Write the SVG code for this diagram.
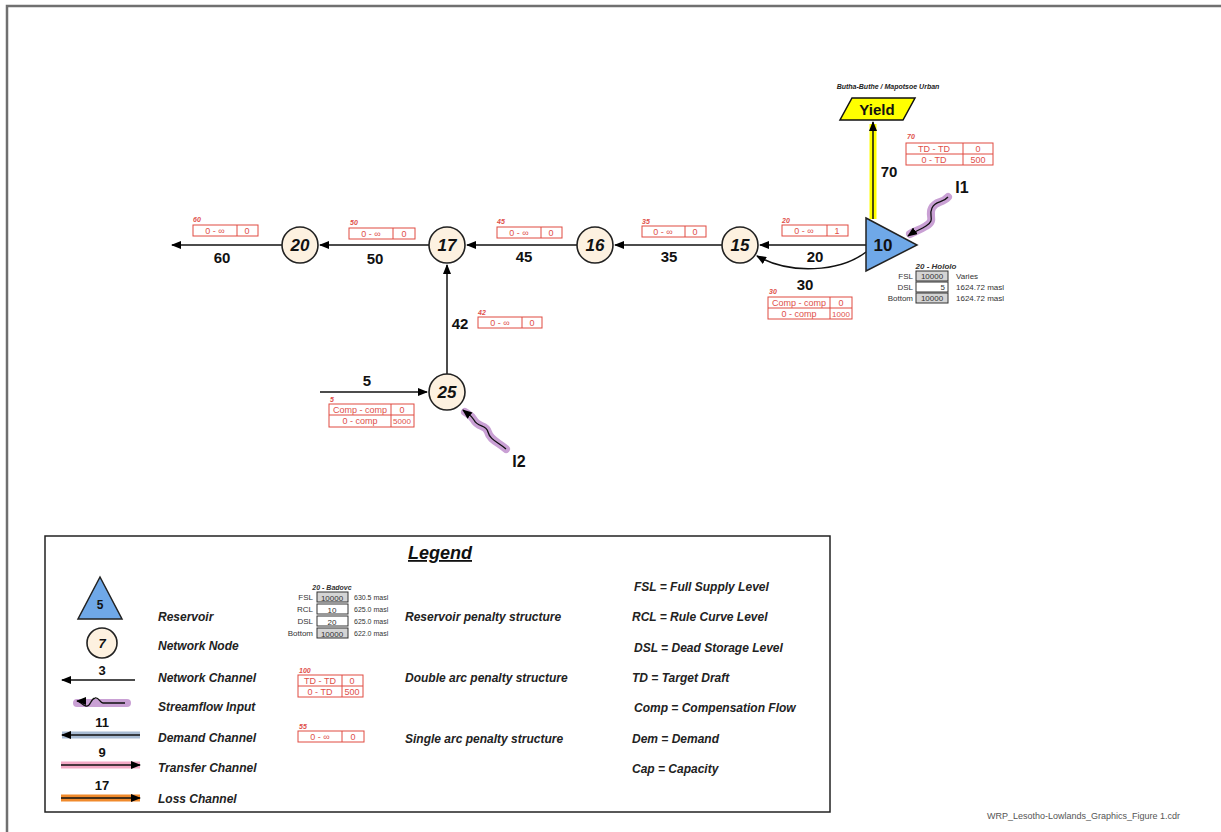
<svg xmlns="http://www.w3.org/2000/svg" width="1221" height="832" viewBox="0 0 1221 832">
<defs>
<marker id="ah" markerWidth="10" markerHeight="8" refX="9" refY="4" orient="auto" markerUnits="userSpaceOnUse"><path d="M0,0 L10,4 L0,8 z" fill="#000"/></marker>
<style>
.node{fill:#fdf1e0;stroke:#222;stroke-width:1.6}
.nl{font-family:"Liberation Sans",Arial,sans-serif;font-weight:bold;font-style:italic;font-size:17px;text-anchor:middle;fill:#111}
.cl{font-family:"Liberation Sans",Arial,sans-serif;font-weight:bold;font-size:15px;text-anchor:middle;fill:#111}
.ch{stroke:#111;stroke-width:1.5;fill:none}
.pt{fill:none;stroke:#e04a40;stroke-width:1}
.pv{font-family:"Liberation Sans",Arial,sans-serif;font-size:9px;fill:#e0504a;text-anchor:middle}
.pn{font-family:"Liberation Sans",Arial,sans-serif;font-size:7px;font-weight:bold;font-style:italic;fill:#e0504a}
.rs{font-family:"Liberation Sans",Arial,sans-serif;font-size:8px;fill:#333}
.rb{fill:#d4d4d4;stroke:#333;stroke-width:1}
.rw{fill:#fff;stroke:#333;stroke-width:1}
.lg{font-family:"Liberation Sans",Arial,sans-serif;font-weight:bold;font-style:italic;font-size:12px;fill:#222}
.sf{stroke:#c9a0d4;stroke-width:8;fill:none;stroke-linecap:round;stroke-linejoin:round}
.sl{stroke:#111;stroke-width:1.3;fill:none}
</style>
</defs>
<rect width="1221" height="832" fill="#fff"/>
<path d="M7,832 V6 H1221" fill="none" stroke="#707070" stroke-width="2.5"/>

<g id="connectors">
<line x1="873" y1="219" x2="873" y2="124" stroke="#ffff00" stroke-width="7"/>
<line x1="873" y1="219" x2="873" y2="122" class="ch" marker-end="url(#ah)"/>
<text x="889" y="177" class="cl">70</text>
<line x1="866" y1="245" x2="760" y2="245" class="ch" marker-end="url(#ah)"/>
<text x="815" y="262" class="cl">20</text>
<path d="M866,252 C840,272 790,275 757,256" class="ch" marker-end="url(#ah)"/>
<text x="805" y="290" class="cl">30</text>
<line x1="722" y1="245" x2="615" y2="245" class="ch" marker-end="url(#ah)"/>
<text x="669" y="262" class="cl">35</text>
<line x1="577" y1="245" x2="467" y2="245" class="ch" marker-end="url(#ah)"/>
<text x="524" y="262" class="cl">45</text>
<line x1="429" y1="245" x2="320" y2="245" class="ch" marker-end="url(#ah)"/>
<text x="375" y="264" class="cl">50</text>
<line x1="282" y1="245" x2="172" y2="245" class="ch" marker-end="url(#ah)"/>
<text x="222" y="263" class="cl">60</text>
<line x1="447" y1="375" x2="447" y2="265" class="ch" marker-end="url(#ah)"/>
<text x="460" y="329" class="cl">42</text>
<line x1="320" y1="392" x2="427" y2="392" class="ch" marker-end="url(#ah)"/>
<text x="367" y="386" class="cl">5</text>
<path d="M948,197 C942,204 936,200 932,208 C928,216 936,220 926,226 C920,230 915,231 910,234" class="sf"/>
<path d="M948,197 C942,204 936,200 932,208 C928,216 936,220 926,226 C920,230 915,231 908,236" class="sl" marker-end="url(#ah)"/>
<text x="962" y="193" class="cl" style="font-size:16px">I1</text>
<path d="M506,449 C498,442 490,440 488,432 C486,424 478,428 474,420 C471,415 468,414 465,412" class="sf"/>
<path d="M506,449 C498,442 490,440 488,432 C486,424 478,428 474,420 C471,415 468,414 463,410" class="sl" marker-end="url(#ah)"/>
<text x="519" y="467" class="cl" style="font-size:16px">I2</text>
</g>

<g id="yield">
<polygon points="852,98 915,98 903,120 840,120" fill="#ffff00" stroke="#111" stroke-width="1.5"/>
<text x="877" y="115" class="cl" style="font-size:15px">Yield</text>
<text x="888" y="89" style="font-family:'Liberation Sans',Arial,sans-serif;font-size:7px;font-weight:bold;font-style:italic;fill:#222" text-anchor="middle">Butha-Buthe / Mapotsoe Urban</text>
</g>

<g id="node-10">
<polygon points="866,218 917,245 866,271" fill="#6fa8e8" stroke="#222" stroke-width="1.5"/>
<text x="883" y="251" class="nl" style="font-style:normal">10</text>
</g>
<g id="node-15"><circle cx="740" cy="245" r="18" class="node"/><text x="740" y="251" class="nl">15</text></g>
<g id="node-16"><circle cx="595" cy="245" r="18" class="node"/><text x="595" y="251" class="nl">16</text></g>
<g id="node-17"><circle cx="447" cy="245" r="18" class="node"/><text x="447" y="251" class="nl">17</text></g>
<g id="node-20"><circle cx="300" cy="245" r="18" class="node"/><text x="300" y="251" class="nl">20</text></g>
<g id="node-25"><circle cx="447" cy="392" r="18" class="node"/><text x="447" y="398" class="nl">25</text></g>

<g id="pen-70">
<text x="907" y="139" class="pn">70</text>
<rect x="906" y="143" width="87" height="22" class="pt"/>
<line x1="906" y1="154" x2="993" y2="154" class="pt"/><line x1="963" y1="143" x2="963" y2="165" class="pt"/>
<text x="934" y="152" class="pv">TD - TD</text><text x="978" y="152" class="pv">0</text>
<text x="934" y="163" class="pv">0 - TD</text><text x="978" y="163" class="pv">500</text>
</g>
<g id="pen-20">
<text x="782" y="223" class="pn">20</text>
<rect x="782" y="225" width="66" height="11" class="pt"/><line x1="827" y1="225" x2="827" y2="236" class="pt"/>
<text x="804" y="234" class="pv">0 - ∞</text><text x="837" y="234" class="pv">1</text>
</g>
<g id="pen-30">
<text x="769" y="294" class="pn">30</text>
<rect x="768" y="297" width="84" height="22" class="pt"/>
<line x1="768" y1="308" x2="852" y2="308" class="pt"/><line x1="830" y1="297" x2="830" y2="319" class="pt"/>
<text x="799" y="306" class="pv">Comp - comp</text><text x="841" y="306" class="pv">0</text>
<text x="799" y="317" class="pv">0 - comp</text><text x="841" y="317" class="pv" style="font-size:8px">1000</text>
</g>
<g id="pen-35">
<text x="642" y="224" class="pn">35</text>
<rect x="642" y="226" width="64" height="11" class="pt"/><line x1="685" y1="226" x2="685" y2="237" class="pt"/>
<text x="663" y="235" class="pv">0 - ∞</text><text x="695" y="235" class="pv">0</text>
</g>
<g id="pen-45">
<text x="497" y="224" class="pn">45</text>
<rect x="497" y="227" width="65" height="11" class="pt"/><line x1="541" y1="227" x2="541" y2="238" class="pt"/>
<text x="519" y="236" class="pv">0 - ∞</text><text x="551" y="236" class="pv">0</text>
</g>
<g id="pen-50">
<text x="350" y="225" class="pn">50</text>
<rect x="349" y="228" width="66" height="11" class="pt"/><line x1="393" y1="228" x2="393" y2="239" class="pt"/>
<text x="371" y="237" class="pv">0 - ∞</text><text x="404" y="237" class="pv">0</text>
</g>
<g id="pen-60">
<text x="193" y="222" class="pn">60</text>
<rect x="193" y="225" width="65" height="11" class="pt"/><line x1="237" y1="225" x2="237" y2="236" class="pt"/>
<text x="215" y="234" class="pv">0 - ∞</text><text x="247" y="234" class="pv">0</text>
</g>
<g id="pen-42">
<text x="478" y="315" class="pn">42</text>
<rect x="478" y="317" width="64" height="11" class="pt"/><line x1="522" y1="317" x2="522" y2="328" class="pt"/>
<text x="500" y="326" class="pv">0 - ∞</text><text x="532" y="326" class="pv">0</text>
</g>
<g id="pen-5">
<text x="330" y="402" class="pn">5</text>
<rect x="329" y="404" width="85" height="23" class="pt"/>
<line x1="329" y1="415" x2="414" y2="415" class="pt"/><line x1="391" y1="404" x2="391" y2="427" class="pt"/>
<text x="360" y="413" class="pv">Comp - comp</text><text x="402" y="413" class="pv">0</text>
<text x="360" y="424" class="pv">0 - comp</text><text x="402" y="424" class="pv" style="font-size:8px">5000</text>
</g>

<g id="res-hololo">
<text x="936" y="269" class="rs" style="font-weight:bold;font-style:italic;text-anchor:middle">20 - Hololo</text>
<rect x="916" y="271" width="32" height="10" class="rb"/>
<rect x="916" y="282" width="32" height="10" class="rw"/>
<rect x="916" y="293" width="32" height="10" class="rb"/>
<text x="913" y="279" class="rs" text-anchor="end">FSL</text>
<text x="913" y="290" class="rs" text-anchor="end">DSL</text>
<text x="913" y="301" class="rs" text-anchor="end">Bottom</text>
<text x="932" y="279" class="rs" text-anchor="middle">10000</text>
<text x="945" y="290" class="rs" text-anchor="end">5</text>
<text x="932" y="301" class="rs" text-anchor="middle">10000</text>
<text x="956" y="279" class="rs">Varies</text>
<text x="956" y="290" class="rs">1624.72 masl</text>
<text x="956" y="301" class="rs">1624.72 masl</text>
</g>

<g id="legend">
<rect x="45" y="536" width="785" height="276" fill="none" stroke="#222" stroke-width="1.5"/>
<text x="440" y="559" style="font-family:'Liberation Sans',Arial,sans-serif;font-weight:bold;font-style:italic;font-size:18px;fill:#111;text-decoration:underline" text-anchor="middle">Legend</text>
<polygon points="100,577 122,619 78,619" fill="#6fa8e8" stroke="#222" stroke-width="1.5"/>
<text x="100" y="609" class="nl" style="font-size:12px;font-style:normal">5</text>
<circle cx="102" cy="643" r="15" class="node"/>
<text x="102" y="648" class="nl" style="font-size:13px">7</text>
<text x="102" y="675" class="cl" style="font-size:13px">3</text>
<line x1="135" y1="680" x2="62" y2="680" class="ch" marker-end="url(#ah)"/>
<line x1="77" y1="703" x2="127" y2="703" stroke="#c9a0d4" stroke-width="8" stroke-linecap="round"/>
<path d="M125,703 L103,703 C100,703 99,697 95,698 C90,699 91,707 86,706 C82,705 80,701 77,701" class="sl" marker-end="url(#ah)"/>
<text x="102" y="727" class="cl" style="font-size:13px">11</text>
<line x1="62" y1="735" x2="140" y2="735" stroke="#a8bcd4" stroke-width="7"/>
<line x1="140" y1="735" x2="62" y2="735" class="ch" marker-end="url(#ah)"/>
<text x="102" y="757" class="cl" style="font-size:13px">9</text>
<line x1="61" y1="765" x2="140" y2="765" stroke="#f4a9c6" stroke-width="7"/>
<line x1="61" y1="765" x2="140" y2="765" class="ch" marker-end="url(#ah)"/>
<text x="102" y="790" class="cl" style="font-size:13px">17</text>
<line x1="61" y1="798" x2="140" y2="798" stroke="#f08a2c" stroke-width="7"/>
<line x1="61" y1="798" x2="140" y2="798" class="ch" marker-end="url(#ah)"/>
<text x="158" y="621" class="lg">Reservoir</text>
<text x="158" y="650" class="lg">Network Node</text>
<text x="158" y="682" class="lg">Network Channel</text>
<text x="158" y="711" class="lg">Streamflow Input</text>
<text x="158" y="742" class="lg">Demand Channel</text>
<text x="158" y="772" class="lg">Transfer Channel</text>
<text x="158" y="803" class="lg">Loss Channel</text>

<text x="332" y="590" class="rs" style="font-weight:bold;font-style:italic;font-size:7px" text-anchor="middle">20 - Badovc</text>
<rect x="317" y="592" width="31" height="10" class="rb"/>
<rect x="317" y="604" width="31" height="10" class="rw"/>
<rect x="317" y="616" width="31" height="10" class="rw"/>
<rect x="317" y="628" width="31" height="10" class="rb"/>
<text x="313" y="600" class="rs" text-anchor="end">FSL</text>
<text x="313" y="612" class="rs" text-anchor="end">RCL</text>
<text x="313" y="624" class="rs" text-anchor="end">DSL</text>
<text x="313" y="636" class="rs" text-anchor="end">Bottom</text>
<text x="332" y="601" class="rs" text-anchor="middle">10000</text>
<text x="332" y="613" class="rs" text-anchor="middle">10</text>
<text x="332" y="625" class="rs" text-anchor="middle">20</text>
<text x="332" y="637" class="rs" text-anchor="middle">10000</text>
<text x="354" y="600" class="rs" style="font-size:7px">630.5 masl</text>
<text x="354" y="612" class="rs" style="font-size:7px">625.0 masl</text>
<text x="354" y="624" class="rs" style="font-size:7px">625.0 masl</text>
<text x="354" y="636" class="rs" style="font-size:7px">622.0 masl</text>
<text x="405" y="621" class="lg">Reservoir penalty structure</text>

<text x="299" y="673" class="pn">100</text>
<rect x="298" y="675" width="65" height="22" class="pt"/>
<line x1="298" y1="686" x2="363" y2="686" class="pt"/><line x1="342" y1="675" x2="342" y2="697" class="pt"/>
<text x="320" y="684" class="pv">TD - TD</text><text x="352" y="684" class="pv">0</text>
<text x="320" y="695" class="pv">0 - TD</text><text x="352" y="695" class="pv">500</text>
<text x="405" y="682" class="lg">Double arc penalty structure</text>

<text x="299" y="729" class="pn">55</text>
<rect x="298" y="731" width="66" height="11" class="pt"/><line x1="342" y1="731" x2="342" y2="742" class="pt"/>
<text x="320" y="740" class="pv">0 - ∞</text><text x="353" y="740" class="pv">0</text>
<text x="405" y="743" class="lg">Single arc penalty structure</text>

<text x="634" y="591" class="lg">FSL = Full Supply Level</text>
<text x="632" y="621" class="lg">RCL = Rule Curve Level</text>
<text x="634" y="652" class="lg">DSL = Dead Storage Level</text>
<text x="632" y="682" class="lg">TD = Target Draft</text>
<text x="634" y="712" class="lg">Comp = Compensation Flow</text>
<text x="632" y="743" class="lg">Dem = Demand</text>
<text x="632" y="773" class="lg">Cap = Capacity</text>
</g>

<text x="987" y="819" style="font-family:'Liberation Sans',Arial,sans-serif;font-size:9px;fill:#555">WRP_Lesotho-Lowlands_Graphics_Figure 1.cdr</text>
</svg>
